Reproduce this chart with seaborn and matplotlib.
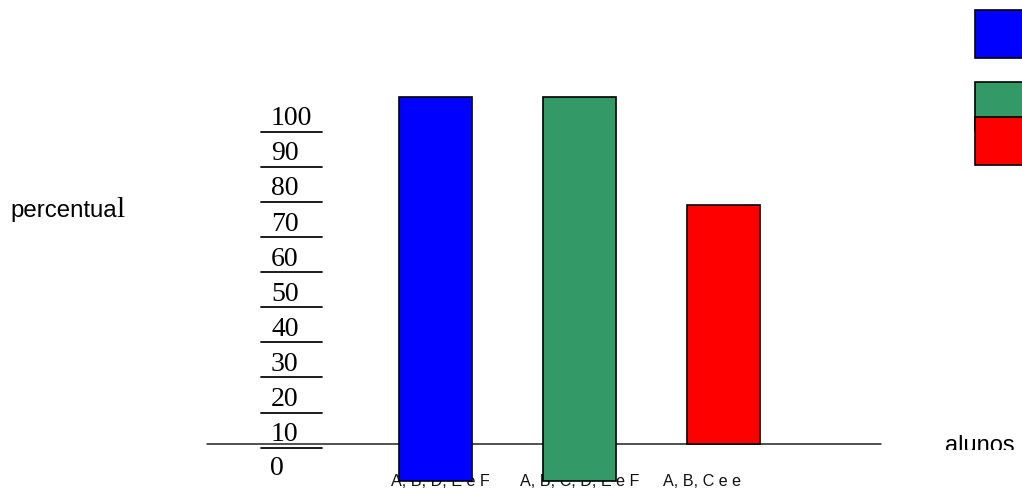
import matplotlib
matplotlib.use("Agg")
import matplotlib.pyplot as plt
from matplotlib.patches import Rectangle
from matplotlib.transforms import Bbox, TransformedBbox
import seaborn as sns

# ---- data -------------------------------------------------------------
groups = ["A, B, D, E e F", "A, B, C, D, E e F", "A, B, C e e"]
percent = [100, 100, 69]            # bar tops (percentual)
bar_floor = [-10.7, -10.7, 0]       # where each bar starts
bar_colors = ["#0000FF", "#339966", "#FF0000"]
tick_values = [100, 90, 80, 70, 60, 50, 40, 30, 20, 10, 0]
y_title = "percentual"
x_title = "alunos"

# ---- layout (pixels of a 1022x490 canvas) -----------------------------
W, H = 1022, 490
base_px = 444.0          # pixel row of the 0 line
px_per_unit = 3.47       # vertical pixels per percent
first_center = 435.5     # pixel column of the first bar
spacing = 144.0          # pixels between bar centres
label_left = [391, 520, 663]

sns.set_theme(style="white")
plt.rcParams["font.family"] = ["Liberation Sans", "DejaVu Sans"]

fig = plt.figure(figsize=(W / 100, H / 100), dpi=100)

# background layer in pixel coordinates (decorations drawn beneath the bars)
bg = fig.add_axes([0, 0, 1, 1], zorder=0)
bg.set_xlim(0, W)
bg.set_ylim(H, 0)
bg.axis("off")

# data layer
ax = fig.add_axes([0, 0, 1, 1], zorder=1)
ax.patch.set_visible(False)

sns.barplot(x=groups, y=percent, hue=groups, palette=bar_colors, legend=False,
            width=73 / spacing, saturation=1, edgecolor="black", linewidth=1.2,
            ax=ax)
for patch, top, floor in zip(ax.patches, percent, bar_floor):
    patch.set_y(floor)
    patch.set_height(top - floor)

ax.set_xlim(-first_center / spacing, (W - first_center) / spacing)
ax.set_ylim((base_px - H) / px_per_unit, base_px / px_per_unit)
ax.axis("off")

# horizontal axis line
bg.plot([207, 881], [base_px, base_px], color="#222222", lw=1.1, zorder=1)

# stacked, underlined scale labels
for t in tick_values:
    line_y = 131.7 + 3.51 * (100 - t)
    if t > 0:
        bg.plot([261, 322], [line_y, line_y], color="black", lw=1.25, zorder=1)
        bg.text(271, line_y - 6.5, str(t), family="Liberation Serif",
                fontsize=20, va="baseline", ha="left", color="black", zorder=1)
    else:
        bg.text(270, 475, str(t), family="Liberation Serif", fontsize=20,
                va="baseline", ha="left", color="black", zorder=1)

# category labels (sit beneath the bars)
for name, x in zip(groups, label_left):
    bg.text(x, 486, name, fontsize=11.6, va="baseline", ha="left",
            color="#111111", zorder=1)

# axis titles
bg.text(10, 217, y_title[:-1], fontsize=17.3, va="baseline", ha="left",
        color="black")
bg.text(116.5, 217, y_title[-1], family="Liberation Serif", fontsize=21,
        va="baseline", ha="left", color="black")
t = bg.text(945, 452, x_title, fontsize=17, va="baseline", ha="left",
            color="black")
t.set_clip_box(TransformedBbox(Bbox([[900, 420], [W, 450]]), bg.transData))
t.set_clip_on(True)

# colour key at the right edge
key_boxes = [(10, bar_colors[0]), (82, bar_colors[1]), (117, bar_colors[2])]
for top, col in key_boxes:
    bg.add_patch(Rectangle((975, top), 70, 48, facecolor=col,
                           edgecolor="black", lw=1.2, zorder=2,
                           clip_on=False))

fig.savefig("out.png", dpi=100)
